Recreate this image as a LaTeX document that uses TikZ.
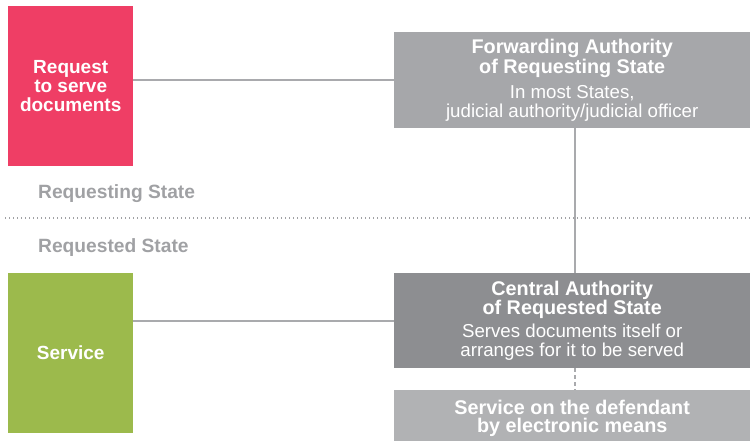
\documentclass[tikz,border=0pt]{standalone}
\usepackage{fontspec}
\setmainfont{Liberation Sans}
\definecolor{reqred}{HTML}{EF3E65}
\definecolor{srvgreen}{HTML}{9CBA4C}
\definecolor{fwdgray}{HTML}{A6A7AA}
\definecolor{cengray}{HTML}{8D8E91}
\definecolor{elegray}{HTML}{B1B2B4}
\definecolor{linegray}{HTML}{A9AAAD}
\definecolor{labgray}{HTML}{A0A1A4}
\newcommand{\ttl}[1]{{\fontsize{19.8}{19}\selectfont\bfseries #1}}
\tikzset{
  sidebox/.style={rectangle, anchor=north west, inner sep=0pt, minimum width=125pt, minimum height=160pt, text=white, font=\fontsize{19}{19}\selectfont\bfseries, align=center},
  authbox/.style={rectangle, anchor=north west, inner sep=0pt, minimum width=356pt, text=white, font=\fontsize{18.7}{18.5}\selectfont, align=center},
  statelab/.style={anchor=base west, inner sep=0pt, text=labgray, font=\fontsize{19.2}{19}\selectfont\bfseries},
  conn/.style={draw=linegray, line width=2pt},
}
\begin{document}
\begin{tikzpicture}[x=1pt, y=-1pt]
\useasboundingbox (0,0) rectangle (750,440);
\begin{scope}
\clip (0,0) rectangle (750,440);
\node[sidebox, fill=reqred] (req) at (8,6) {Request\\to serve\\documents};
\node[sidebox, fill=srvgreen] (srv) at (8,273) {Service};
\node[authbox, fill=fwdgray, minimum height=96pt] (fwd) at (394,32)
  {\ttl{Forwarding Authority}\\\ttl{of Requesting State}\\[7pt]In most States,\\judicial authority/judicial officer};
\node[authbox, fill=cengray, minimum height=95pt] (cen) at (394,273)
  {\ttl{Central Authority}\\\ttl{of Requested State}\\[5pt]Serves documents itself or\\arranges for it to be served};
\node[authbox, fill=elegray, minimum height=56pt] (ele) at (394,390)
  {\ttl{Service on the defendant}\\\ttl{by electronic means}};
\node[statelab] (rqg) at (38,198) {Requesting State};
\node[statelab] (rqd) at (38,252) {Requested State};
\coordinate (dl) at (5,218);
\coordinate (dr) at (750,218);
\draw[labgray, line width=1.3pt, dash pattern=on 1.3pt off 2.7pt] (dl) -- (dr);
\draw[conn] (req.east |- fwd.west) -- (fwd.west);
\draw[conn] (srv.east |- cen.west) -- (cen.west);
\draw[conn] ([xshift=3pt]fwd.south) -- ([xshift=3pt]cen.north);
\draw[conn, dash pattern=on 4pt off 3pt] ([xshift=3pt]cen.south) -- ([xshift=3pt]ele.north);
\end{scope}
\end{tikzpicture}
\end{document}
